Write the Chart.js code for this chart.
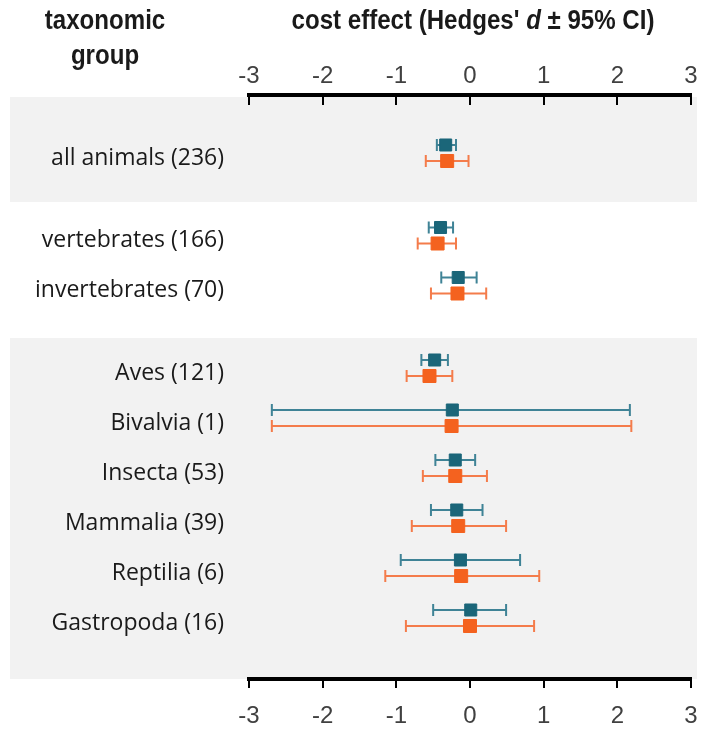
<!DOCTYPE html>
<html lang="en">
<head>
<meta charset="UTF-8">
<title>Cost effect by taxonomic group</title>
<style>
    body { margin: 0; background: #fff; }
    #wrap { width: 713px; height: 734px; position: relative; }
</style>
<script src="https://cdn.jsdelivr.net/npm/chart.js"></script>
</head>
<body>
<div id="wrap"><canvas id="forest"></canvas></div>
<script>
// taxonomic groups (n studies) and the block each one belongs to
const categories = ['all animals (236)', 'vertebrates (166)', 'invertebrates (70)', 'Aves (121)',
    'Bivalvia (1)', 'Insecta (53)', 'Mammalia (39)', 'Reptilia (6)', 'Gastropoda (16)'];
const blocks = [0, 1, 1, 2, 2, 2, 2, 2, 2];

// teal series: Hedges' d with 95% CI
const tealMean = [-0.33, -0.40, -0.16, -0.48, -0.24, -0.20, -0.18, -0.13, 0.01];
const tealLow  = [-0.45, -0.56, -0.39, -0.66, -2.69, -0.47, -0.53, -0.94, -0.50];
const tealHigh = [-0.19, -0.23, 0.09, -0.30, 2.17, 0.07, 0.17, 0.68, 0.49];

// orange series
const orangeMean = [-0.31, -0.44, -0.17, -0.55, -0.25, -0.20, -0.16, -0.12, 0.00];
const orangeLow  = [-0.60, -0.71, -0.53, -0.86, -2.69, -0.64, -0.79, -1.15, -0.87];
const orangeHigh = [-0.02, -0.19, 0.22, -0.24, 2.19, 0.23, 0.49, 0.94, 0.87];

const xTicks = [-3, -2, -1, 0, 1, 2, 3];

const TEAL = '#1b6679', TEAL_LINE = '#3f8396';
const ORANGE = '#f4621f', ORANGE_LINE = '#f47c4b';

// row slot on the vertical scale: one unit per row, extra gap between blocks
const rowPos = categories.map((c, i) => 1.16 + i + blocks[i] * 0.65);

function points(means, shift) {
    return means.map((m, i) => ({ x: m, y: rowPos[i] + shift }));
}

const NARROW = '"Liberation Sans Narrow", "Arial Narrow", "Liberation Sans", Arial, sans-serif';

const ciPlugin = {
    id: 'ci',
    beforeDraw(chart) {
        // shaded blocks behind everything
        const ctx = chart.ctx, ys = chart.scales.y, area = chart.chartArea;
        ctx.save();
        ctx.fillStyle = '#f2f2f2';
        const firstTop = area.top + 2;
        const firstBottom = ys.getPixelForValue(rowPos[0] + 0.98);
        ctx.fillRect(10, firstTop, 687, firstBottom - firstTop);
        const last = blocks.indexOf(2);
        const lastTop = ys.getPixelForValue(rowPos[last] - 0.6);
        ctx.fillRect(10, lastTop, 687, area.bottom - lastTop);
        ctx.restore();
    },
    beforeDatasetsDraw(chart) {
        const ctx = chart.ctx, xs = chart.scales.x, ys = chart.scales.y, area = chart.chartArea;

        // inward ticks on the top axis
        const x2 = chart.scales.x2;
        ctx.save();
        ctx.strokeStyle = '#000';
        ctx.lineWidth = 2;
        x2.ticks.forEach(t => {
            const px = Math.round(x2.getPixelForValue(t.value));
            ctx.beginPath();
            ctx.moveTo(px, area.top);
            ctx.lineTo(px, area.top + 10);
            ctx.stroke();
        });
        ctx.restore();

        // confidence interval whiskers
        chart.data.datasets.forEach(ds => {
            ctx.save();
            ctx.strokeStyle = ds.whiskerColor;
            ctx.lineWidth = 2;
            ds.data.forEach((p, i) => {
                const y = ys.getPixelForValue(p.y);
                const x0 = xs.getPixelForValue(ds.low[i]);
                const x1 = xs.getPixelForValue(ds.high[i]);
                ctx.beginPath();
                ctx.moveTo(x0, y); ctx.lineTo(x1, y);
                ctx.moveTo(x0, y - 6); ctx.lineTo(x0, y + 6);
                ctx.moveTo(x1, y - 6); ctx.lineTo(x1, y + 6);
                ctx.stroke();
            });
            ctx.restore();
        });
    },
    afterDraw(chart) {
        const ctx = chart.ctx;
        const sx = 0.86;
        ctx.save();
        ctx.fillStyle = '#1a1a1a';
        ctx.textBaseline = 'middle';
        ctx.scale(sx, 1);
        const fb = 'bold 28px "Liberation Sans", Arial, sans-serif';
        const fi = 'italic bold 28px "Liberation Sans", Arial, sans-serif';
        ctx.textAlign = 'center';
        ctx.font = fb;
        ctx.fillText('taxonomic', 105 / sx, 21);
        ctx.fillText('group', 105 / sx, 56);

        // "cost effect (Hedges' d ± 95% CI)" with an italic d
        const a = "cost effect (Hedges' ", d = 'd', b = ' \u00b1 95% CI)';
        ctx.font = fb; const wa = ctx.measureText(a).width, wb = ctx.measureText(b).width;
        ctx.font = fi; const wd = ctx.measureText(d).width;
        let x = 473 / sx - (wa + wd + wb) / 2;
        ctx.textAlign = 'left';
        ctx.font = fb; ctx.fillText(a, x, 21); x += wa;
        ctx.font = fi; ctx.fillText(d, x, 21); x += wd;
        ctx.font = fb; ctx.fillText(b, x, 21);
        ctx.restore();
    }
};

const tickFont = { family: NARROW, size: 24 };

new Chart(document.getElementById('forest'), {
    type: 'scatter',
    data: {
        datasets: [
            {
                label: 'teal', data: points(tealMean, -0.16), low: tealLow, high: tealHigh,
                whiskerColor: TEAL_LINE, backgroundColor: TEAL, borderColor: TEAL,
                pointStyle: 'rect', pointRadius: 8.5, borderWidth: 1
            },
            {
                label: 'orange', data: points(orangeMean, 0.16), low: orangeLow, high: orangeHigh,
                whiskerColor: ORANGE_LINE, backgroundColor: ORANGE, borderColor: ORANGE,
                pointStyle: 'rect', pointRadius: 9.2, borderWidth: 1
            }
        ]
    },
    options: {
        responsive: true,
        maintainAspectRatio: false,
        animation: false,
        layout: { padding: { left: 0, right: 22, top: 0, bottom: 0 } },
        plugins: { legend: { display: false }, tooltip: { enabled: false } },
        scales: {
            x: {
                type: 'linear', position: 'bottom', min: -3, max: 3,
                afterBuildTicks: s => { s.ticks = xTicks.map(v => ({ value: v })); },
                afterFit: s => { s.height = 55; },
                border: { color: '#000', width: 4 },
                grid: { drawOnChartArea: false, color: '#000', lineWidth: 2, tickLength: 9 },
                ticks: { font: tickFont, color: '#404040', padding: 14 }
            },
            x2: {
                type: 'linear', position: 'top', min: -3, max: 3,
                afterBuildTicks: s => { s.ticks = xTicks.map(v => ({ value: v })); },
                afterFit: s => { s.height = 95; },
                border: { color: '#000', width: 4 },
                grid: { drawOnChartArea: false, drawTicks: false },
                ticks: { font: tickFont, color: '#404040', padding: 4 }
            },
            y: {
                type: 'linear', position: 'left', min: 0, max: 11.68, reverse: true,
                afterBuildTicks: s => { s.ticks = rowPos.map(v => ({ value: v + 0.1 })); },
                afterFit: s => { s.width = 249; },
                border: { display: false },
                grid: { display: false, drawTicks: false },
                ticks: {
                    autoSkip: false, padding: 25, color: '#1a1a1a',
                    font: { family: '"Open Sans", Lato, sans-serif', size: 23 },
                    callback: (v, i) => categories[i]
                }
            }
        }
    },
    plugins: [ciPlugin]
});
</script>
</body>
</html>
